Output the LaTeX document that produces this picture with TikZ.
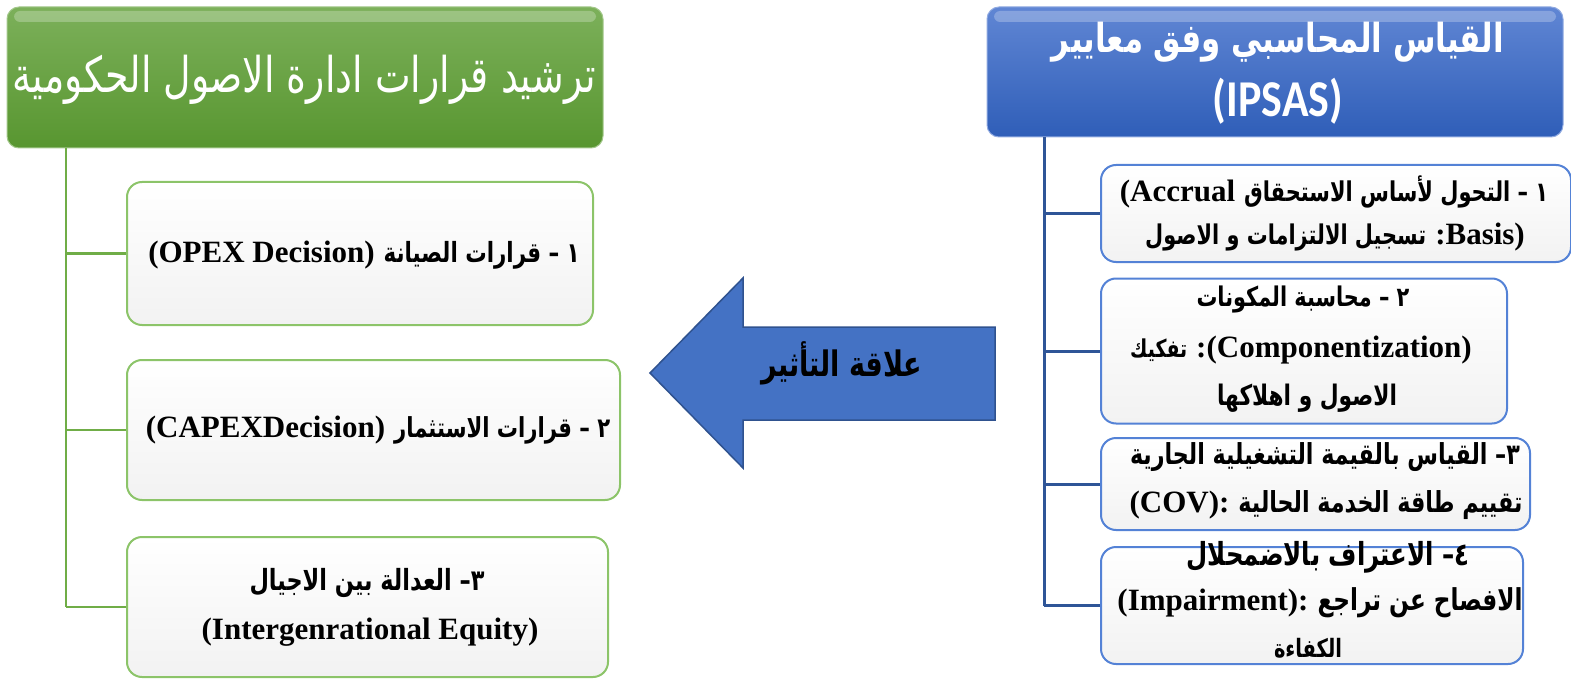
\documentclass[tikz,border=0pt]{standalone}
\usepackage{fontspec}
\usepackage{graphicx}
\setmainfont{Liberation Serif}
\newfontfamily\arfont[Script=Arabic]{DejaVu Sans}
\newfontfamily\hdfont{Carlito}
\TeXXeTstate=1
% Arabic run (bold), fitted to a width, stretched vertically; the argument carries its own \beginR ... \endR
\newcommand{\ARfit}[2]{\resizebox{#1pt}{!}{\scalebox{1}[1.3]{\hbox{\arfont\bfseries #2}}}}
% Arabic run (regular)
\newcommand{\ARNfit}[2]{\resizebox{#1pt}{!}{\scalebox{1}[1.3]{\hbox{\arfont #2}}}}
% Latin run, Times-like bold
\newcommand{\LTx}[1]{\hbox{\fontsize{31}{36}\selectfont\bfseries #1}}
\newcommand{\gapx}{\hskip 9pt}
\definecolor{gTop}{RGB}{124,176,90}
\definecolor{gBot}{RGB}{88,150,48}
\definecolor{bTop}{RGB}{96,134,212}
\definecolor{bBot}{RGB}{47,94,184}
\definecolor{gLine}{RGB}{112,173,71}
\definecolor{bLine}{RGB}{47,85,151}
\definecolor{gEdge}{RGB}{140,196,105}
\definecolor{bEdge}{RGB}{84,130,214}
\definecolor{arrFill}{RGB}{68,114,196}
\definecolor{arrEdge}{RGB}{47,82,143}
\definecolor{boxBot}{RGB}{242,242,242}
\tikzset{
  ghead/.style={rectangle, rounded corners=12pt, top color=gTop, bottom color=gBot, draw=gTop!70!white, line width=1pt, inner sep=0pt},
  bhead/.style={rectangle, rounded corners=12pt, top color=bTop, bottom color=bBot, draw=bTop!70!white, line width=1pt, inner sep=0pt},
  gbox/.style={rectangle, rounded corners=15pt, top color=white, bottom color=boxBot, draw=gEdge, line width=2pt, inner sep=0pt},
  bbox/.style={rectangle, rounded corners=15pt, top color=white, bottom color=boxBot, draw=bEdge, line width=2pt, inner sep=0pt},
  txt/.style={inner sep=0pt, anchor=center},
  gtrunk/.style={draw=gLine, line width=2.5pt},
  btrunk/.style={draw=bLine, line width=3pt},
  gloss/.style={white, opacity=0.25, rounded corners=6pt},
}
\begin{document}
\begin{tikzpicture}[x=1pt,y=-1pt]
\useasboundingbox (0,0) rectangle (1571,679);
% ---------- left (green) ----------
\node[ghead, minimum width=596pt, minimum height=141pt] (gh) at (305,77.5) {};
\fill[gloss] (14,11) rectangle (596,22);
\node[txt, text=white] (ght) at (304,80) {\ARNfit{583}{\beginR ترشيد قرارات ادارة الاصول الحكومية\endR}};
\node[gbox, minimum width=466pt, minimum height=143pt] (g1) at (360,253.5) {};
\node[gbox, minimum width=493pt, minimum height=140pt] (g2) at (373.5,430) {};
\node[gbox, minimum width=481pt, minimum height=140pt] (g3) at (367.5,607) {};
\coordinate (gtop) at (66,148);
\coordinate (gbot) at (66,607);
\draw[gtrunk] (gtop) -- (gbot);
\draw[gtrunk] (g1.west) -- (g1.west -| gtop);
\draw[gtrunk] (g2.west) -- (g2.west -| gtop);
\draw[gtrunk] (g3.west) -- (gbot);
\node[txt] (g1t) at (364,255) {\hbox{\LTx{(OPEX Decision)}\gapx\ARfit{196}{\beginR ١ – قرارات الصيانة\endR}}};
\node[txt] (g2t) at (378,430) {\hbox{\LTx{(CAPEXDecision)}\gapx\ARfit{216}{\beginR ٢ – قرارات الاستثمار\endR}}};
\node[txt] (g3a) at (367,583) {\ARfit{235}{\beginR ٣– العدالة بين الاجيال\endR}};
\node[txt] (g3b) at (370,632) {\LTx{(Intergenrational Equity)}};
% ---------- arrow ----------
\coordinate (atip) at (650,373);
\coordinate (ah1) at (743,278);
\coordinate (ah2) at (743,327);
\coordinate (at1) at (995,327);
\coordinate (at2) at (995,420);
\coordinate (ah3) at (743,420);
\coordinate (ah4) at (743,468);
\draw[fill=arrFill, draw=arrEdge, line width=1.5pt, line join=miter] (atip) -- (ah1) -- (ah2) -- (at1) -- (at2) -- (ah3) -- (ah4) -- cycle;
\node[txt] (arrt) at (842,363) {\ARfit{161}{\beginR علاقة التأثير\endR}};
% ---------- right (blue) ----------
\node[bhead, minimum width=576pt, minimum height=130pt] (bh) at (1275,72) {};
\fill[gloss] (994,11) rectangle (1556,22);
\node[txt, text=white] (bht1) at (1278,42) {\ARfit{452}{\beginR القياس المحاسبي وفق معايير\endR}};
\node[txt, text=white] (bht2) at (1278,101) {\resizebox{130pt}{!}{\scalebox{0.85}[1]{\hbox{\hdfont\bfseries (IPSAS)}}}};
\node[bbox, minimum width=470pt, minimum height=97pt] (b1) at (1336,213.5) {};
\node[bbox, minimum width=406pt, minimum height=145pt] (b2) at (1304,351) {};
\node[bbox, minimum width=429pt, minimum height=92pt] (b3) at (1315.5,484) {};
\node[bbox, minimum width=422pt, minimum height=117pt] (b4) at (1312,605.5) {};
\coordinate (btop) at (1044,137);
\coordinate (bbot) at (1044,605.5);
\draw[btrunk] (btop) -- (bbot);
\draw[btrunk] (b1.west) -- (b1.west -| btop);
\draw[btrunk] (b2.west) -- (b2.west -| btop);
\draw[btrunk] (b3.west) -- (b3.west -| btop);
\draw[btrunk] (b4.west) -- (bbot);
\node[txt] (b1a) at (1334,192) {\hbox{\LTx{(Accrual}\gapx\ARfit{304}{\beginR ١ – التحول لأساس الاستحقاق\endR}}};
\node[txt] (b1b) at (1335,237) {\hbox{\ARfit{281}{\beginR تسجيل الالتزامات و الاصول\endR}\gapx\LTx{:Basis)}}};
\node[txt] (b2a) at (1303,300) {\ARfit{213}{\beginR ٢ – محاسبة المكونات\endR}};
\node[txt] (b2b) at (1301,350) {\hbox{\ARfit{57}{\beginR تفكيك\endR}\gapx\LTx{:(Componentization)}}};
\node[txt] (b2c) at (1307,398) {\ARfit{180}{\beginR الاصول و اهلاكها\endR}};
\node[txt] (b3a) at (1325,457) {\ARfit{390}{\beginR ٣– القياس بالقيمة التشغيلية الجارية\endR}};
\node[txt] (b3b) at (1326,505) {\hbox{\LTx{(COV):}\gapx\ARfit{284}{\beginR تقييم طاقة الخدمة الحالية\endR}}};
\node[txt] (b4a) at (1328,557) {\ARfit{283}{\beginR ٤– الاعتراف بالاضمحلال\endR}};
\node[txt] (b4b) at (1320,603) {\hbox{\LTx{(Impairment):}\gapx\ARfit{205}{\beginR الافصاح عن تراجع\endR}}};
\node[txt] (b4c) at (1308,648) {\ARfit{68}{\beginR الكفاءة\endR}};
\end{tikzpicture}
\end{document}
